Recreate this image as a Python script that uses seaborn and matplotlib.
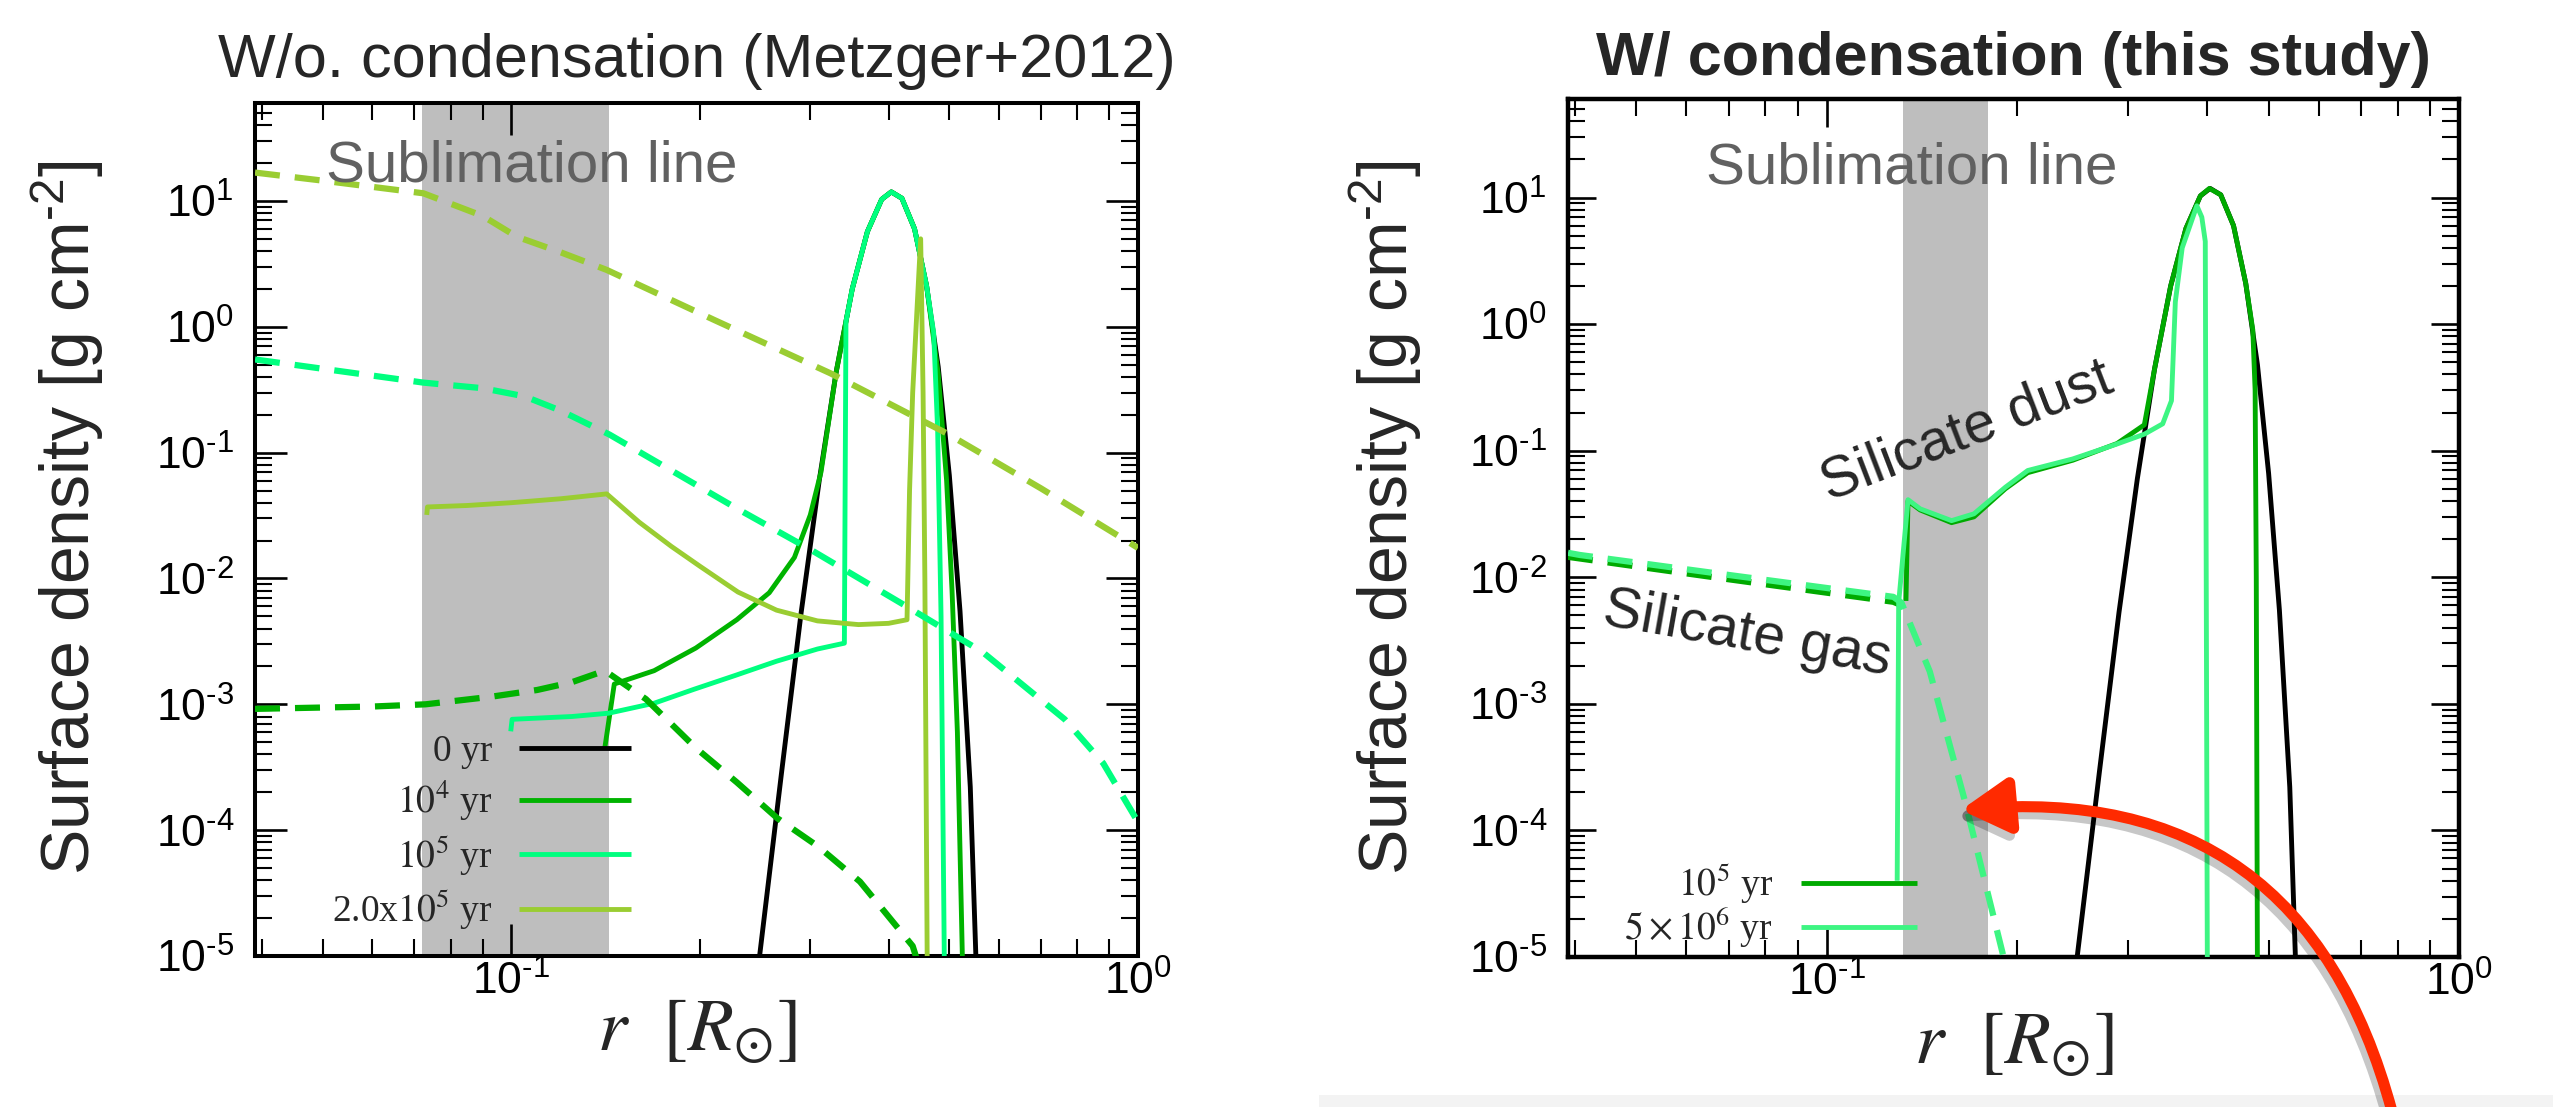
import numpy as np
import matplotlib
matplotlib.use("Agg")
import matplotlib.pyplot as plt
import matplotlib.ticker as mticker
import matplotlib.patheffects as pe
from matplotlib.font_manager import FontProperties
from matplotlib.patches import Rectangle
import seaborn as sns

# ---------------------------------------------------------------- data
# Left panel: without condensation (Metzger+2012)
r_L_0yr = [0.249, 0.27, 0.29, 0.31, 0.33, 0.35, 0.37, 0.39, 0.404, 0.42, 0.44, 0.46, 0.48, 0.50, 0.52, 0.54, 0.552]
s_L_0yr = [1.0e-5, 2.9e-4, 5.3e-3, 0.060, 0.44, 2.0, 5.7, 10.3, 11.8, 10.5, 6.0, 2.1, 0.48, 0.066, 5.5e-3, 2.2e-4, 8e-6]

r_L_1e4 = [0.141, 0.146, 0.169, 0.197, 0.229, 0.258, 0.283, 0.300, 0.312, 0.33, 0.35, 0.37, 0.39, 0.404, 0.42, 0.44, 0.46, 0.48, 0.495, 0.505, 0.515, 0.525]
s_L_1e4 = [4.5e-4, 1.45e-3, 1.85e-3, 2.8e-3, 4.7e-3, 7.7e-3, 0.0147, 0.032, 0.07, 0.44, 2.0, 5.7, 10.3, 11.8, 10.5, 6.0, 2.1, 0.42, 0.06, 8e-3, 6e-4, 8e-6]

r_L_1e5 = [0.0998, 0.1003, 0.125, 0.143, 0.169, 0.196, 0.228, 0.265, 0.308, 0.340, 0.342, 0.35, 0.37, 0.39, 0.404, 0.42, 0.44, 0.46, 0.472, 0.479, 0.485, 0.491]
s_L_1e5 = [6.1e-4, 7.6e-4, 8.0e-4, 8.5e-4, 1.02e-3, 1.32e-3, 1.7e-3, 2.2e-3, 2.75e-3, 3.06e-3, 1.1, 2.0, 5.7, 10.3, 11.8, 10.5, 6.0, 2.1, 0.9, 0.15, 5e-3, 8e-6]

r_L_2e5 = [0.0733, 0.0735, 0.085, 0.10, 0.12, 0.142, 0.16, 0.18, 0.20, 0.23, 0.265, 0.308, 0.358, 0.40, 0.428, 0.432, 0.437, 0.45, 0.454, 0.457, 0.461]
s_L_2e5 = [0.032, 0.037, 0.038, 0.040, 0.043, 0.047, 0.028, 0.018, 0.0125, 7.8e-3, 5.6e-3, 4.6e-3, 4.3e-3, 4.4e-3, 4.7e-3, 0.05, 0.3, 5.0, 0.3, 0.01, 8e-6]

r_L_1e4_gas = [0.039, 0.06, 0.073, 0.093, 0.11, 0.125, 0.141, 0.164, 0.197, 0.229, 0.266, 0.309, 0.36, 0.437, 0.445]
s_L_1e4_gas = [9.2e-4, 9.6e-4, 1.0e-3, 1.15e-3, 1.3e-3, 1.5e-3, 1.85e-3, 1.1e-3, 4.5e-4, 2.4e-4, 1.24e-4, 7.4e-5, 3.9e-5, 1.2e-5, 9e-6]

r_L_1e5_gas = [0.039, 0.0724, 0.09, 0.105, 0.12, 0.1435, 0.229, 0.30, 0.418, 0.565, 0.764, 0.88, 1.0]
s_L_1e5_gas = [0.55, 0.36, 0.325, 0.28, 0.215, 0.139, 0.036, 0.017, 6.4e-3, 2.6e-3, 7.6e-4, 3.4e-4, 1.16e-4]

r_L_2e5_gas = [0.039, 0.05, 0.0724, 0.09, 0.102, 0.12, 0.142, 0.211, 0.323, 0.4956, 0.70, 1.0]
s_L_2e5_gas = [16.8, 14.5, 11.5, 7.6, 5.2, 3.9, 2.83, 1.13, 0.427, 0.142, 0.052, 0.0175]

labels_L = ["0 yr", r"$10^{4}$ yr", r"$10^{5}$ yr", r"2.0x$10^{5}$ yr"]

# Right panel: with condensation (this study)
r_R_0yr = r_L_0yr
s_R_0yr = s_L_0yr

r_R_1e5 = [0.1335, 0.1345, 0.1406, 0.1576, 0.171, 0.1917, 0.208, 0.245, 0.288, 0.318, 0.33, 0.35, 0.37, 0.39, 0.403, 0.42, 0.44, 0.46, 0.472, 0.476, 0.478, 0.480]
s_R_1e5 = [6.5e-3, 0.040, 0.034, 0.027, 0.030, 0.050, 0.067, 0.084, 0.114, 0.16, 0.44, 2.0, 5.7, 10.3, 11.8, 10.5, 6.0, 2.1, 0.9, 0.3, 0.01, 8e-6]

r_R_5e6 = [0.1293, 0.1300, 0.1345, 0.1406, 0.1576, 0.171, 0.1917, 0.208, 0.245, 0.288, 0.318, 0.340, 0.351, 0.356, 0.365, 0.385, 0.392, 0.397, 0.400]
s_R_5e6 = [4e-5, 6.3e-3, 0.041, 0.0347, 0.028, 0.0317, 0.0514, 0.0697, 0.086, 0.113, 0.135, 0.163, 0.248, 1.5, 4.0, 8.6, 7.0, 4.5, 8e-6]

r_R_1e5_gas = [0.039, 0.0664, 0.1275, 0.1325]
s_R_1e5_gas = [0.0145, 0.0100, 6.4e-3, 5.9e-3]

r_R_5e6_gas = [0.039, 0.0407, 0.0664, 0.1275, 0.1313, 0.1456, 0.1655, 0.1901, 0.1925]
s_R_5e6_gas = [0.0156, 0.0150, 0.0108, 7.0e-3, 6.3e-3, 1.8e-3, 1.7e-4, 1.04e-5, 8e-6]

labels_R = [r"$10^{5}$ yr", r"$5\times10^{6}$ yr"]

sublimation_L = (0.072, 0.143)
sublimation_R = (0.132, 0.180)

# colours
C_0 = "#000000"
C_1E4 = "#00b300"
C_1E5 = "#00ff7f"
C_2E5 = "#9acd32"
C_R1E5 = "#00aa00"
C_R5E6 = "#3df582"

# ---------------------------------------------------------------- style
sns.set_style("ticks")
plt.rcParams["font.family"] = ["Liberation Sans", "DejaVu Sans"]
plt.rcParams["mathtext.fontset"] = "custom"
plt.rcParams["mathtext.rm"] = "Liberation Sans"
plt.rcParams["mathtext.it"] = "Liberation Sans:italic"
plt.rcParams["mathtext.bf"] = "Liberation Sans:bold"

fig = plt.figure(figsize=(25.53, 11.07), dpi=100)
W, H = 2553.0, 1107.0
ax1 = fig.add_axes([255 / W, 1 - 956 / H, (1138 - 255) / W, (956 - 103) / H])
ax2 = fig.add_axes([1568 / W, 1 - 957 / H, (2459 - 1568) / W, (957 - 99) / H])

for ax in (ax1, ax2):
    ax.set_xscale("log")
    ax.set_yscale("log")


def curve(ax, r, s, color, lw=3.5, dashed=False, z=3):
    ls = (0, (4.0, 2.4)) if dashed else "-"
    sns.lineplot(x=r, y=s, ax=ax, color=color, linewidth=lw, linestyle=ls,
                 sort=False, estimator=None, errorbar=None, legend=False, zorder=z)
    line = ax.lines[-1]
    line.set_solid_capstyle("butt")
    line.set_dash_capstyle("butt")
    return line


def exp_label(v, p):
    e = int(round(np.log10(v)))
    return r"$10^{\text{%d}}$" % e


def style(ax, maj_len, min_len, spine_w):
    ax.set_xlim(0.039, 1.0)
    ax.set_ylim(1e-5, 60)
    fmt = mticker.FuncFormatter(exp_label)
    for axis in (ax.xaxis, ax.yaxis):
        axis.set_major_locator(mticker.LogLocator(base=10, numticks=30))
        axis.set_minor_locator(mticker.LogLocator(base=10, subs=np.arange(2, 10) * 1.0, numticks=200))
        axis.set_major_formatter(fmt)
        axis.set_minor_formatter(mticker.NullFormatter())
    ax.tick_params(which="both", direction="in", top=True, right=True, colors="black")
    ax.tick_params(which="major", length=maj_len, width=1.9, labelsize=32)
    ax.tick_params(which="minor", length=min_len, width=1.5)
    ax.tick_params(axis="x", which="major", pad=3)
    ax.tick_params(axis="y", which="major", pad=15)
    for sp in ax.spines.values():
        sp.set_linewidth(spine_w)
        sp.set_color("black")
        sp.set_visible(True)
    ax.set_facecolor("white")


# ---------------------------------------------------------------- left panel
ax1.axvspan(*sublimation_L, color="#bebebe", lw=0, zorder=0)
hL = [curve(ax1, r_L_0yr, s_L_0yr, C_0),
      curve(ax1, r_L_1e4, s_L_1e4, C_1E4),
      curve(ax1, r_L_1e5, s_L_1e5, C_1E5),
      curve(ax1, r_L_2e5, s_L_2e5, C_2E5)]
curve(ax1, r_L_1e4_gas, s_L_1e4_gas, C_1E4, lw=4.5, dashed=True)
curve(ax1, r_L_1e5_gas, s_L_1e5_gas, C_1E5, lw=4.5, dashed=True)
curve(ax1, r_L_2e5_gas, s_L_2e5_gas, C_2E5, lw=4.5, dashed=True)
style(ax1, 23, 12, 2.9)

# ---------------------------------------------------------------- right panel
ax2.axvspan(*sublimation_R, color="#bebebe", lw=0, zorder=0)
curve(ax2, r_R_0yr, s_R_0yr, C_0)
hR1 = curve(ax2, r_R_1e5, s_R_1e5, C_R1E5)
curve(ax2, r_R_1e5_gas, s_R_1e5_gas, C_R1E5, lw=4.5, dashed=True)
hR2 = curve(ax2, r_R_5e6, s_R_5e6, C_R5E6)
curve(ax2, r_R_5e6_gas, s_R_5e6_gas, C_R5E6, lw=4.5, dashed=True)
style(ax2, 20, 12, 3.2)

# ---------------------------------------------------------------- text
for ax in (ax1, ax2):
    ax.set_ylabel(r"Surface density [g cm$^{\text{-2}}$]", fontsize=49)
    ax.set_xlabel(r"$r\ \ [R_{\odot}]$", fontsize=54, math_fontfamily="stix")
ax1.yaxis.set_label_coords(-0.169, 0.514)
ax2.yaxis.set_label_coords(-0.162, 0.512)
ax1.xaxis.set_label_coords(0.5, -0.048)
ax2.xaxis.set_label_coords(0.5, -0.062)

ax1.set_title("W/o. condensation (Metzger+2012)", fontsize=44, pad=19)
ax2.set_title("W/ condensation (this study)", fontsize=44, fontweight="bold", pad=17)

ax1.text(0.08, 0.9077, "Sublimation line", transform=ax1.transAxes, fontsize=42,
         color="#616161", ha="left", va="baseline", zorder=5)
ax2.text(0.155, 0.901, "Sublimation line", transform=ax2.transAxes, fontsize=42,
         color="#616161", ha="left", va="baseline", zorder=5)
ax2.text(0.1665, 0.1416, "Silicate dust", rotation=21, ha="center", va="center",
         fontsize=41, rotation_mode="anchor", zorder=6)
ax2.text(0.075, 3.5e-3, "Silicate gas", rotation=-10, ha="center", va="center",
         fontsize=41, rotation_mode="anchor", zorder=6)

legL = ax1.legend(hL, labels_L, loc="lower right", bbox_to_anchor=(0.426, 0.028),
                  frameon=False, markerfirst=False, handlelength=3.0, handletextpad=0.7,
                  labelspacing=0.25, borderpad=0, borderaxespad=0,
                  prop=FontProperties(family="Liberation Serif", size=27, math_fontfamily="stix"))
legR = ax2.legend([hR1, hR2], labels_R, loc="lower right", bbox_to_anchor=(0.392, 0.008),
                  frameon=False, markerfirst=False, handlelength=3.1, handletextpad=0.75,
                  labelspacing=0.0, borderpad=0, borderaxespad=0,
                  prop=FontProperties(family="Liberation Serif", size=27, math_fontfamily="stix"))

# red curved arrow (annotation) pointing at the gas drop
ax2.annotate("", xy=(1961 / W, 1 - 810 / H), xycoords="figure fraction",
             xytext=(2392 / W, -0.004), textcoords="figure fraction",
             arrowprops=dict(arrowstyle="-|>,head_length=1.3,head_width=0.75",
                             color="#ff2a00", lw=8, shrinkA=0, shrinkB=0,
                             mutation_scale=22, connectionstyle="arc3,rad=0.42",
                             path_effects=[pe.SimpleLineShadow(offset=(-3, -5), shadow_color="black", alpha=0.22),
                                           pe.Normal()]),
             annotation_clip=False, zorder=10)

fig.add_artist(Rectangle((1319 / W, 0), 1 - 1319 / W, 12 / H, transform=fig.transFigure,
                         facecolor="#f3f3f3", edgecolor="none", zorder=-1))

fig.savefig("out.png", dpi=100, facecolor="white")
